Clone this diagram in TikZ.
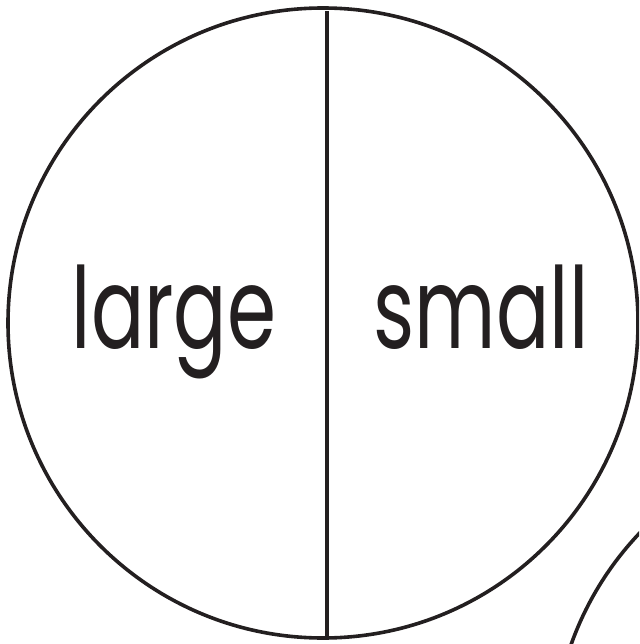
\documentclass[tikz,border=0pt]{standalone}
\usepackage{fontspec}
\setmainfont{Poppins}
\definecolor{ink}{HTML}{231F20}
\begin{document}
\begin{tikzpicture}[x=1pt,y=-1pt,
  rim/.style={draw=ink,line width=3.6pt},
  word/.style={anchor=base,text=ink,inner sep=0pt,xscale=0.79,yscale=1.13,font=\fontsize{100}{100}\selectfont}]
\useasboundingbox (0,0) rectangle (639,644);
\clip (0,0) rectangle (639,644);
\node[circle,rim,minimum size=630pt,inner sep=0pt] (big) at (323,323) {};
\node[circle,rim,minimum size=630pt,inner sep=0pt] (other) at (868,750) {};
\coordinate (top) at (327,11);
\coordinate (bot) at (327,636);
\draw[draw=ink,line width=3.4pt] (top) -- (bot);
\node[word] (large) at (174,348) {large};
\node[word] (small) at (481,348) {small};
\end{tikzpicture}
\end{document}
